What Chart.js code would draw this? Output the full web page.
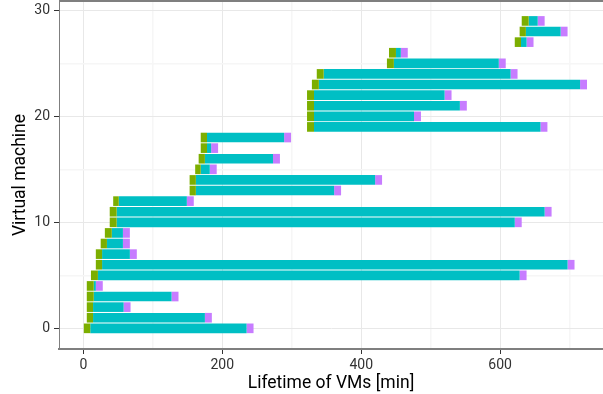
<!DOCTYPE html>
<html>
<head>
<meta charset="utf-8">
<script src="https://cdn.jsdelivr.net/npm/chart.js@4/dist/chart.umd.min.js"></script>
<style>
html,body{margin:0;padding:0;background:#fff;}
#wrap{width:603px;height:394px;}
</style>
</head>
<body>
<div id="wrap"><canvas id="c" width="603" height="394"></canvas></div>
<script>
// Virtual machine index
const vms = [0,1,2,3,4,5,6,7,8,9,10,11,12,13,14,15,16,17,18,19,20,21,22,23,24,25,26,27,28,29];
// Phase boundaries (minutes)
const bootStart   = [0,5,5,5,5,11,18,18,25,31,38,38,43,153,153,161,166,169,169,322,322,322,322,329,336,437,440,621,628,631];
const runStart    = [10,14,14,15,15,21,27,27,34,41,48,48,51,162,162,169,175,178,178,332,332,332,332,339,346,447,450,630,637,641];
const runEnd      = [235,175,58,127,18,628,697,67,57,57,621,664,149,361,420,182,273,184,289,658,476,542,520,715,615,598,457,638,687,654];
const shutdownEnd = [245,185,68,137,28,638,707,77,67,67,631,674,159,371,430,192,283,194,299,668,486,552,530,725,625,608,467,648,697,664];
const xTicks = [0,100,200,300,400,500,600,700];
const yTicks = [0,5,10,15,20,25,30];
const phaseNames = ['boot','run','shutdown'];
const phaseColors = ['#7CAE00','#00BFC4','#C77CFF'];

const bounds = [[bootStart, runStart],[runStart, runEnd],[runEnd, shutdownEnd]];
const datasets = bounds.map((b, k) => ({
  label: phaseNames[k],
  data: vms.map((v, i) => ({y: v, x: [b[0][i], b[1][i]]})),
  backgroundColor: phaseColors[k],
  borderWidth: 0,
  grouped: false,
  categoryPercentage: 1,
  barPercentage: 0.91,
  inflateAmount: 0
}));

const topLine = {
  id: 'topLine',
  afterDraw(chart) {
    const {ctx, chartArea} = chart;
    ctx.save();
    ctx.strokeStyle = '#7F7F7F';
    ctx.lineWidth = 2;
    ctx.beginPath();
    ctx.moveTo(chartArea.left, chartArea.top);
    ctx.lineTo(chartArea.right, chartArea.top);
    ctx.stroke();
    ctx.restore();
  }
};

new Chart(document.getElementById('c'), {
  type: 'bar',
  data: { datasets },
  plugins: [topLine],
  options: {
    indexAxis: 'y',
    responsive: false,
    animation: false,
    layout: { padding: { top: 1, right: 0, left: 0, bottom: 0 } },
    plugins: { legend: { display: false }, tooltip: { enabled: false } },
    scales: {
      x: {
        type: 'linear',
        min: -35, max: 748,
        offset: false,
        afterBuildTicks: s => { s.ticks = xTicks.map(v => ({value: v})); },
        afterFit: s => { s.height = 45; s.paddingLeft = 0; s.paddingRight = 0; },
        ticks: {
          autoSkip: false, maxRotation: 0, padding: 3,
          color: '#333', font: { family: 'Roboto', size: 14 },
          callback: v => (v % 200 === 0 ? String(v) : '')
        },
        grid: {
          offset: false,
          color: c => (c.tick && c.tick.value % 200 === 0 ? '#E8E8E8' : '#F6F6F6'),
          lineWidth: c => (c.tick && c.tick.value % 200 === 0 ? 1 : 1.5),
          tickColor: c => (c.tick && c.tick.value % 200 === 0 ? '#333' : 'rgba(0,0,0,0)'),
          tickLength: 5
        },
        border: { color: '#7F7F7F', width: 2 },
        title: {
          display: true, text: 'Lifetime of VMs [min]', color: '#000',
          font: { family: 'Roboto', size: 17.5 }, padding: { top: 0, bottom: 0 }
        }
      },
      y: {
        type: 'linear',
        min: -1.95, max: 30.88,
        offset: false,
        afterBuildTicks: s => { s.ticks = yTicks.map(v => ({value: v})); },
        afterFit: s => { s.width = 59; s.paddingTop = 0; s.paddingBottom = 0; },
        ticks: {
          autoSkip: false, padding: 4,
          color: '#333', font: { family: 'Roboto', size: 14 },
          callback: v => (v % 10 === 0 ? String(v) : '')
        },
        grid: {
          offset: false,
          color: c => (c.tick && c.tick.value % 10 === 0 ? '#E8E8E8' : '#F6F6F6'),
          lineWidth: c => (c.tick && c.tick.value % 10 === 0 ? 1 : 1.5),
          tickColor: c => (c.tick && c.tick.value % 10 === 0 ? '#333' : 'rgba(0,0,0,0)'),
          tickLength: 5
        },
        border: { color: '#7F7F7F', width: 1 },
        title: {
          display: true, text: 'Virtual machine', color: '#000',
          font: { family: 'Roboto', size: 17.5 }, padding: { top: 10, bottom: 0 }
        }
      }
    }
  }
});
</script>
</body>
</html>
